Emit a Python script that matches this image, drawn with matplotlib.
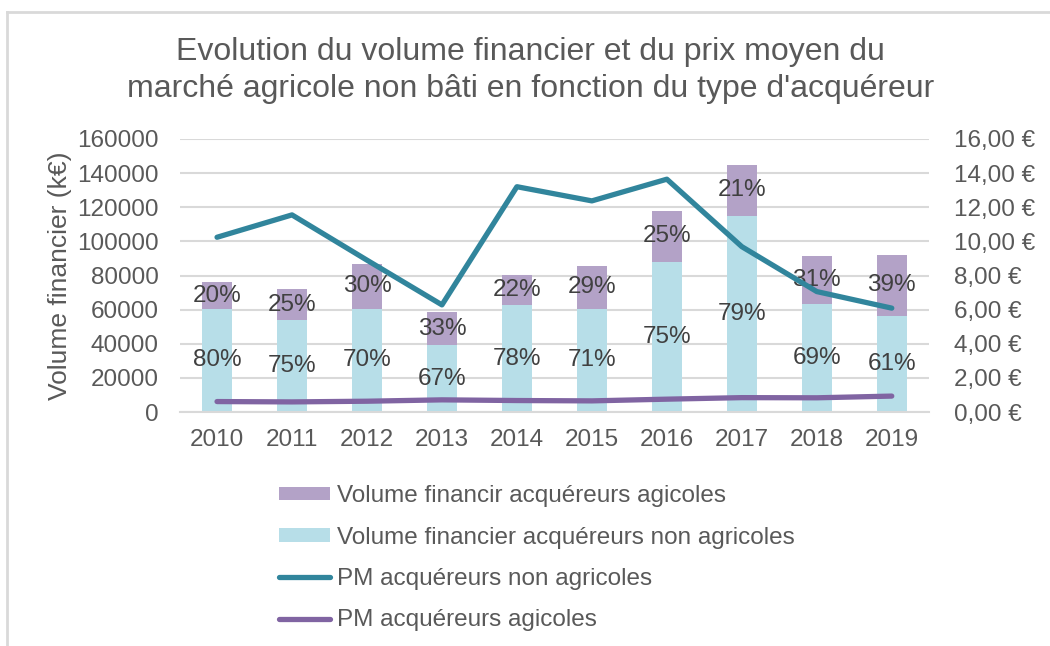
import numpy as np
import matplotlib
matplotlib.use("Agg")
import matplotlib.pyplot as plt
from matplotlib.lines import Line2D

plt.rcParams['font.family'] = ['Liberation Sans', 'DejaVu Sans']

# Données
annees = ["2010", "2011", "2012", "2013", "2014", "2015", "2016", "2017", "2018", "2019"]
vol_non_agri = [60500, 54000, 60500, 39400, 62800, 60500, 88200, 114900, 63500, 56500]
vol_agri = [15600, 18000, 26300, 19100, 17400, 25100, 29600, 29800, 28200, 35600]
pct_non_agri = ["80%", "75%", "70%", "67%", "78%", "71%", "75%", "79%", "69%", "61%"]
pct_agri = ["20%", "25%", "30%", "33%", "22%", "29%", "25%", "21%", "31%", "39%"]
pm_non_agri = [10.24, 11.55, 8.9, 6.28, 13.2, 12.37, 13.64, 9.69, 7.06, 6.09]
pm_agri = [0.62, 0.60, 0.64, 0.72, 0.68, 0.66, 0.76, 0.85, 0.84, 0.94]

c_texte = "#595959"
c_grille = "#D9D9D9"
c_bleu_clair = "#B7DEE8"
c_violet_clair = "#B3A2C7"
c_bleu = "#31859C"
c_violet = "#8064A2"

fig = plt.figure(figsize=(10.5, 6.46), dpi=100)
ax = fig.add_axes([0.171, 0.362, 0.714, 0.423])
ax2 = ax.twinx()

x = np.arange(len(annees))
b1 = ax.bar(x, vol_non_agri, width=0.4, color=c_bleu_clair, zorder=2,
            label="Volume financier acquéreurs non agricoles")
b2 = ax.bar(x, vol_agri, width=0.4, bottom=vol_non_agri, color=c_violet_clair, zorder=2,
            label="Volume financir acquéreurs agicoles")

# étiquettes au centre des segments
for i in range(len(x)):
    ax.text(x[i], vol_non_agri[i] / 2, pct_non_agri[i], ha="center", va="center",
            fontsize=17.5, color="#404040", zorder=5)
    ax.text(x[i], vol_non_agri[i] + vol_agri[i] / 2, pct_agri[i], ha="center", va="center",
            fontsize=17.5, color="#404040", zorder=5)

ax.set_xlim(-0.5, len(x) - 0.5)
ax.set_ylim(0, 160000)
ax.set_yticks(np.arange(0, 160001, 20000))
ax.set_xticks(x)
ax.set_xticklabels(annees)
ax.yaxis.grid(True, color=c_grille, linewidth=1.5, zorder=0)
ax.set_axisbelow(True)
for s in ["top", "right", "left"]:
    ax.spines[s].set_visible(False)
ax.spines["bottom"].set_color(c_grille)
ax.spines["bottom"].set_linewidth(1.5)
ax.tick_params(axis="both", length=0, labelsize=17.5, labelcolor=c_texte)
ax.tick_params(axis="x", pad=12)
ax.tick_params(axis="y", pad=15)
ax.set_ylabel("Volume financier (k€)", fontsize=19, color=c_texte, labelpad=4)

l1, = ax2.plot(x, pm_non_agri, color=c_bleu, linewidth=3.8, solid_capstyle="round", zorder=3,
               label="PM acquéreurs non agricoles")
l2, = ax2.plot(x, pm_agri, color=c_violet, linewidth=3.8, solid_capstyle="round", zorder=3,
               label="PM acquéreurs agicoles")
ax2.set_ylim(0, 16)
ax2.set_yticks(np.arange(0, 16.1, 2))
ax2.set_yticklabels([f"{v:.2f}".replace(".", ",") + " €" for v in np.arange(0, 16.1, 2)])
for s in ax2.spines.values():
    s.set_visible(False)
ax2.tick_params(axis="y", length=0, labelsize=17.5, labelcolor=c_texte, pad=18)

fig.text(0.505, 0.891, "Evolution du volume financier et du prix moyen du\n"
         "marché agricole non bâti en fonction du type d'acquéreur",
         ha="center", va="center", fontsize=23, color=c_texte, linespacing=1.3)

poignees = [b2, b1, l1, l2]
leg = fig.legend(poignees, [h.get_label() for h in poignees], loc="upper left",
                 bbox_to_anchor=(0.245, 0.283), frameon=False, fontsize=17.5,
                 handlelength=2.1, handletextpad=0.3, labelspacing=0.8,
                 handleheight=0.5)
for t in leg.get_texts():
    t.set_color(c_texte)

# cadre du graphique
fig.add_artist(Line2D([7 / 1050, 7 / 1050], [0, 1 - 12 / 646], color=c_grille, linewidth=2))
fig.add_artist(Line2D([7 / 1050, 1], [1 - 12 / 646, 1 - 12 / 646], color=c_grille, linewidth=2))

fig.savefig("out.png", dpi=100)
